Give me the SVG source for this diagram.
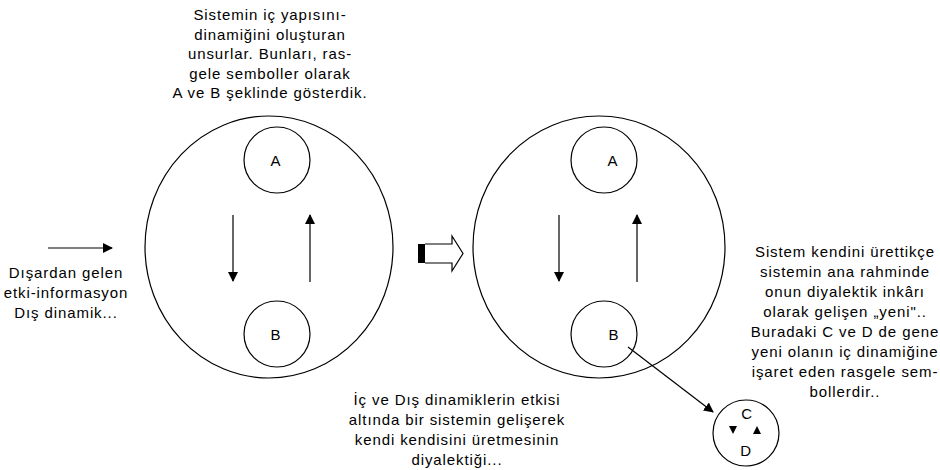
<svg xmlns="http://www.w3.org/2000/svg" width="940" height="470" viewBox="0 0 940 470">
<defs>
<style>
.ln{fill:none;stroke:#000;stroke-width:1.2}
.t{font-family:"Liberation Sans",Arial,sans-serif;font-size:15px;fill:#000;text-anchor:middle;letter-spacing:0.9px}
</style>
<marker id="ah" markerWidth="10" markerHeight="10" refX="9" refY="5" orient="auto" markerUnits="userSpaceOnUse">
<path d="M0,0 L10,5 L0,10 Z" fill="#000"/>
</marker>
</defs>
<rect width="940" height="470" fill="#fff"/>
<g id="note-top">
<text class="t" x="270" y="20">Sistemin iç yapısını-</text>
<text class="t" x="270" y="39.5">dinamiğini oluşturan</text>
<text class="t" x="270" y="59">unsurlar. Bunları, ras-</text>
<text class="t" x="270" y="78.5">gele semboller olarak</text>
<text class="t" x="270" y="98">A ve B  şeklinde gösterdik.</text>
</g>
<g id="note-left">
<text class="t" x="66" y="278">Dışardan gelen</text>
<text class="t" x="66" y="298">etki-informasyon</text>
<text class="t" x="66" y="318">Dış dinamik...</text>
</g>
<g id="note-bottom">
<text class="t" x="457" y="405">İç ve Dış dinamiklerin etkisi</text>
<text class="t" x="457" y="425">altında bir sistemin gelişerek</text>
<text class="t" x="457" y="445">kendi kendisini üretmesinin</text>
<text class="t" x="457" y="465">diyalektiği...</text>
</g>
<g id="note-right">
<text class="t" x="845" y="257">Sistem kendini ürettikçe</text>
<text class="t" x="845" y="277">sistemin ana rahminde</text>
<text class="t" x="845" y="297">onun diyalektik inkârı</text>
<text class="t" x="845" y="317">olarak gelişen „yeni"..</text>
<text class="t" x="845" y="337">Buradaki C ve D de gene</text>
<text class="t" x="845" y="357">yeni olanın iç dinamiğine</text>
<text class="t" x="845" y="377">işaret eden rasgele sem-</text>
<text class="t" x="845" y="397">bollerdir..</text>
</g>
<g id="system1">
<ellipse class="ln" cx="269" cy="247" rx="124" ry="131"/>
</g>
<g id="system1-A">
<circle class="ln" cx="277" cy="160" r="33"/>
<text class="t" x="276" y="166">A</text>
</g>
<g id="system1-B">
<circle class="ln" cx="277" cy="334" r="33"/>
<text class="t" x="276" y="340">B</text>
</g>
<g id="system2">
<ellipse class="ln" cx="599" cy="247" rx="126" ry="131"/>
</g>
<g id="system2-A">
<circle class="ln" cx="604" cy="160" r="33"/>
<text class="t" x="613" y="166">A</text>
</g>
<g id="system2-B">
<circle class="ln" cx="604" cy="334" r="33"/>
<text class="t" x="614" y="340">B</text>
</g>
<g id="new-CD">
<circle class="ln" cx="746" cy="433" r="33"/>
<text class="t" x="747" y="419">C</text>
<text class="t" x="746" y="456">D</text>
<path d="M729,426 L737,426 L733,434 Z" fill="#000"/>
<path d="M753,434 L761,434 L757,426 Z" fill="#000"/>
</g>
<g id="transition">
<rect x="418" y="244" width="7" height="19" fill="#000"/>
<path class="ln" d="M425,244 L452,244 L452,236 L463,253.5 L452,271 L452,263 L425,263"/>
</g>
<g id="connectors">
<line class="ln" x1="48" y1="248" x2="112" y2="248" marker-end="url(#ah)"/>
<line class="ln" x1="233" y1="215" x2="233" y2="281" marker-end="url(#ah)"/>
<line class="ln" x1="310" y1="282" x2="310" y2="215" marker-end="url(#ah)"/>
<line class="ln" x1="559" y1="215" x2="559" y2="281" marker-end="url(#ah)"/>
<line class="ln" x1="637" y1="282" x2="637" y2="215" marker-end="url(#ah)"/>
<line class="ln" x1="628" y1="347" x2="713" y2="412" marker-end="url(#ah)"/>
</g>
</svg>
